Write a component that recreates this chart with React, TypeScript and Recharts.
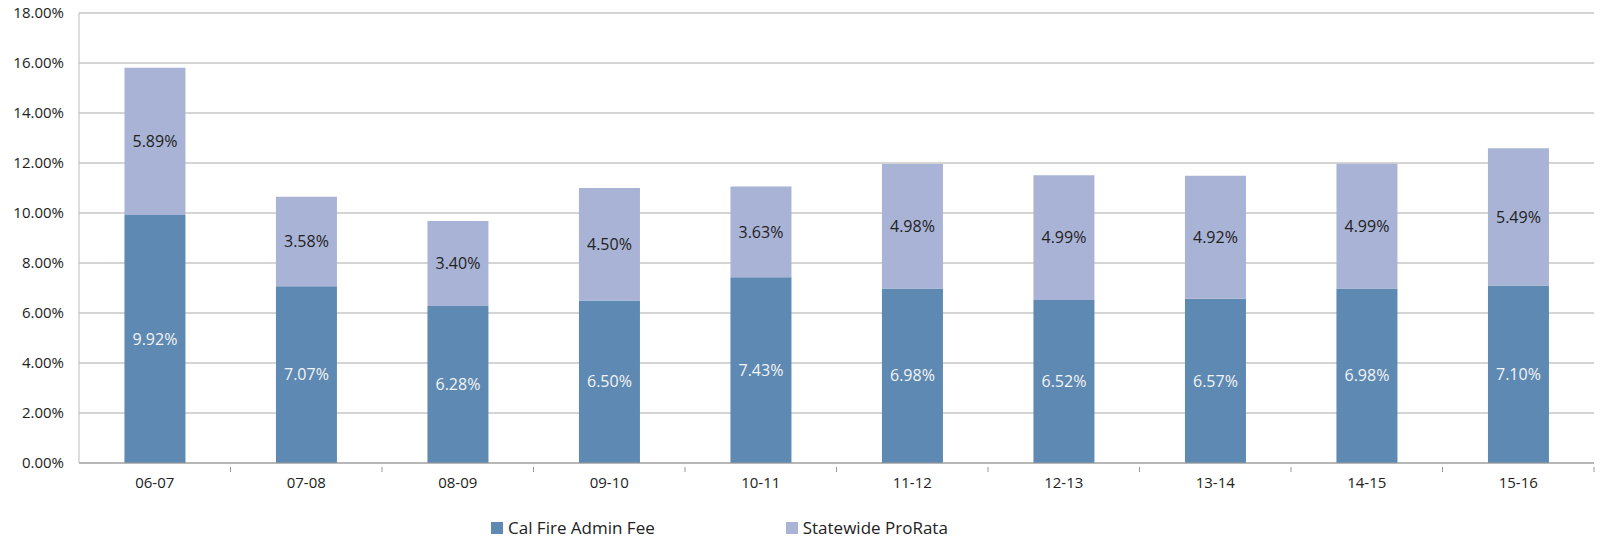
import React from 'react';
import { BarChart, Bar, XAxis, YAxis, CartesianGrid, Legend, LabelList } from 'recharts';

const categories = ['06-07', '07-08', '08-09', '09-10', '10-11', '11-12', '12-13', '13-14', '14-15', '15-16'];
const adminFee = [9.92, 7.07, 6.28, 6.5, 7.43, 6.98, 6.52, 6.57, 6.98, 7.1];
const proRata = [5.89, 3.58, 3.4, 4.5, 3.63, 4.98, 4.99, 4.92, 4.99, 5.49];
const yTicks = [0, 2, 4, 6, 8, 10, 12, 14, 16, 18];
const seriesNames = ['Cal Fire Admin Fee', 'Statewide ProRata'];

const DARK = '#5d89b3';
const LIGHT = '#a9b3d6';
const FONT = '"Open Sans", sans-serif';

const data = categories.map((c, i) => ({ cat: c, admin: adminFee[i], prorata: proRata[i] }));

const W = 1604;
const H = 545;
const M = { top: 13, right: 10, left: 0, bottom: 52 };
const Y_W = 79;
const bandWidth = (W - M.left - M.right - Y_W) / categories.length;

const XTick = (props: any) => {
  const { x, y, payload, index } = props;
  const left = x - bandWidth / 2;
  const right = x + bandWidth / 2;
  return (
    <g>
      {index > 0 && <line x1={left} y1={y - 4} x2={left} y2={y + 1} stroke="#999" strokeWidth={1} />}
      {index === categories.length - 1 && <line x1={right} y1={y - 4} x2={right} y2={y + 1} stroke="#999" strokeWidth={1} />}
      <text x={x} y={y + 17} textAnchor="middle" fontFamily={FONT} fontSize={15} fill="#222">
        {payload.value}
      </text>
    </g>
  );
};

const LegendContent = () => (
  <div style={{ display: 'flex', alignItems: 'center', fontFamily: FONT, fontSize: 17, color: '#222', whiteSpace: 'nowrap' }}>
    <span style={{ display: 'inline-block', width: 12, height: 12, background: DARK, marginRight: 5 }} />
    <span>{seriesNames[0]}</span>
    <span style={{ display: 'inline-block', width: 12, height: 12, background: LIGHT, marginLeft: 131, marginRight: 5 }} />
    <span>{seriesNames[1]}</span>
  </div>
);

const fmt = (v: any) => `${Number(v).toFixed(2)}%`;

export default function App() {
  return (
    <div style={{ position: 'absolute', left: 0, top: 0, width: W, height: H, background: '#fff' }}>
      <BarChart width={W} height={H} data={data} margin={M} barCategoryGap="30%">
        <CartesianGrid vertical={false} stroke="#aaa" strokeWidth={1} />
        <XAxis
          dataKey="cat"
          axisLine={{ stroke: '#999' }}
          tickLine={false}
          tick={<XTick />}
          height={30}
          interval={0}
        />
        <YAxis
          domain={[0, 18]}
          ticks={yTicks}
          width={Y_W}
          axisLine={{ stroke: '#bbb' }}
          tickLine={false}
          tickSize={0}
          tickMargin={15}
          tickFormatter={fmt}
          tick={{ fontFamily: FONT, fontSize: 15, fill: '#222' }}
        />
        <Legend
          layout="horizontal"
          verticalAlign="middle"
          align="center"
          content={<LegendContent />}
          wrapperStyle={{ position: 'absolute', left: 491, top: 516, width: 'auto' }}
        />
        <Bar dataKey="admin" stackId="a" fill={DARK} isAnimationActive={false} name={seriesNames[0]}>
          <LabelList dataKey="admin" position="center" formatter={fmt} style={{ fontFamily: FONT, fontSize: 16, fill: '#f4f4f4' }} />
        </Bar>
        <Bar dataKey="prorata" stackId="a" fill={LIGHT} isAnimationActive={false} name={seriesNames[1]}>
          <LabelList dataKey="prorata" position="center" formatter={fmt} style={{ fontFamily: FONT, fontSize: 16, fill: '#222' }} />
        </Bar>
      </BarChart>
    </div>
  );
}
